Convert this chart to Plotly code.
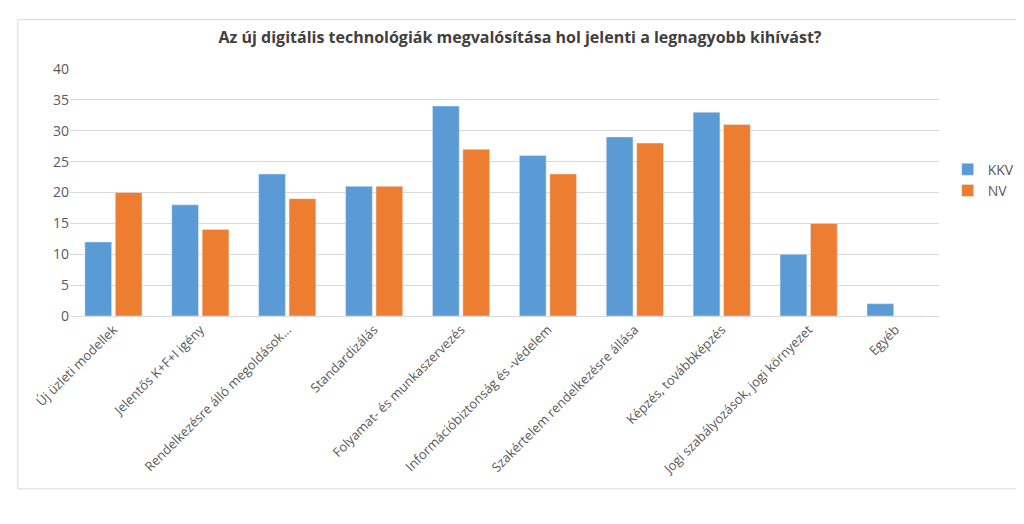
import plotly.graph_objects as go

categories = ["Új üzleti modellek", "Jelentős K+F+I igény", "Rendelkezésre álló megoldások…",
              "Standardizálás", "Folyamat- és munkaszervezés", "Információbiztonság és -védelem",
              "Szakértelem rendelkezésre állása", "Képzés, továbbképzés",
              "Jogi szabályozások, jogi környezet", "Egyéb"]
kkv = [12, 18, 23, 21, 34, 26, 29, 33, 10, 2]
nv = [20, 14, 19, 21, 27, 23, 28, 31, 15, 0]

fig = go.Figure()
fig.add_bar(name="KKV", x=categories, y=kkv, marker_color="#5B9BD5")
fig.add_bar(name="NV", x=categories, y=nv, marker_color="#ED7D31")
fig.update_layout(
    width=1024, height=524, barmode="group", bargap=0.3, bargroupgap=0.12,
    plot_bgcolor="white", paper_bgcolor="white",
    font=dict(family="Open Sans, Liberation Sans, sans-serif", size=13, color="#595959"),
    title=dict(text="<b>Az új digitális technológiák megvalósítása hol jelenti a legnagyobb kihívást?</b>",
               x=0.5, y=0.955, xanchor="center", font=dict(size=16, color="#404040")),
    margin=dict(l=62, r=89, t=61, b=216),
    legend=dict(x=1.01, y=0.55, xanchor="left", yanchor="middle", font=dict(size=14, color="#595959")),
    yaxis=dict(range=[0, 40], dtick=5, gridcolor="#D9D9D9", showline=False, zeroline=False,
               ticks="", tickfont=dict(size=14)),
    xaxis=dict(tickangle=-45, showline=True, linecolor="#D9D9D9", tickfont=dict(size=13)),
    shapes=[dict(type="rect", xref="paper", yref="paper", x0=-0.06, x1=1.1, y0=-0.7, y1=1.2,
                 line=dict(color="#D9D9D9", width=1))],
)
fig.write_html("out.html")
